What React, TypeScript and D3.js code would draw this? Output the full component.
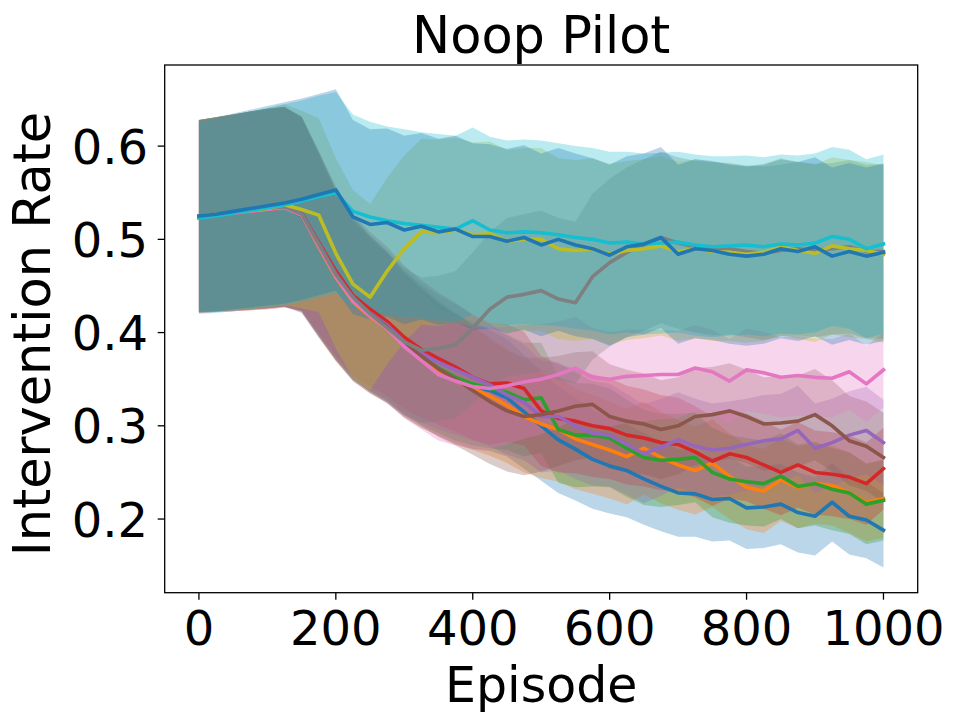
import React from 'react';
import * as d3 from 'd3';

const episodes = [0, 25, 50, 75, 100, 125, 150, 175, 200, 225, 250, 275, 300, 325, 350, 375, 400, 425, 450, 475, 500, 525, 550, 575, 600, 625, 650, 675, 700, 725, 750, 775, 800, 825, 850, 875, 900, 925, 950, 975, 1000];

const xTicks = [0, 200, 400, 600, 800, 1000];
const yTicks = [0.2, 0.3, 0.4, 0.5, 0.6];

const titleText = 'Noop Pilot';
const xLabel = 'Episode';
const yLabel = 'Intervention Rate';

const tab10 = ['#1f77b4', '#ff7f0e', '#2ca02c', '#d62728', '#9467bd', '#8c564b', '#e377c2', '#7f7f7f', '#bcbd22', '#17becf', '#1f77b4'];

const blue1Mean = [0.525, 0.527, 0.529, 0.531, 0.533, 0.535, 0.525, 0.493, 0.46, 0.434, 0.418, 0.405, 0.386, 0.372, 0.36, 0.35, 0.342, 0.338, 0.33, 0.315, 0.3, 0.285, 0.275, 0.264, 0.257, 0.252, 0.243, 0.235, 0.228, 0.227, 0.221, 0.222, 0.212, 0.213, 0.216, 0.207, 0.203, 0.218, 0.203, 0.199, 0.188];
const orangeMean = [0.524, 0.526, 0.528, 0.53, 0.532, 0.535, 0.526, 0.492, 0.459, 0.433, 0.417, 0.404, 0.385, 0.371, 0.359, 0.348, 0.34, 0.332, 0.322, 0.31, 0.302, 0.296, 0.286, 0.28, 0.274, 0.267, 0.276, 0.266, 0.258, 0.252, 0.26, 0.246, 0.234, 0.23, 0.242, 0.234, 0.238, 0.236, 0.228, 0.218, 0.222];
const greenMean = [0.525, 0.527, 0.529, 0.531, 0.533, 0.535, 0.527, 0.494, 0.461, 0.435, 0.419, 0.406, 0.388, 0.374, 0.362, 0.352, 0.345, 0.34, 0.336, 0.328, 0.33, 0.296, 0.29, 0.29, 0.287, 0.276, 0.266, 0.263, 0.264, 0.266, 0.25, 0.243, 0.24, 0.238, 0.246, 0.235, 0.238, 0.232, 0.228, 0.216, 0.22];
const redMean = [0.524, 0.526, 0.528, 0.53, 0.532, 0.534, 0.528, 0.497, 0.466, 0.44, 0.425, 0.412, 0.395, 0.382, 0.372, 0.363, 0.352, 0.345, 0.346, 0.34, 0.316, 0.308, 0.305, 0.3, 0.297, 0.29, 0.287, 0.282, 0.28, 0.272, 0.262, 0.27, 0.266, 0.258, 0.25, 0.258, 0.25, 0.248, 0.245, 0.238, 0.254];
const purpleMean = [0.525, 0.527, 0.529, 0.531, 0.533, 0.535, 0.528, 0.496, 0.463, 0.437, 0.421, 0.408, 0.39, 0.378, 0.368, 0.36, 0.352, 0.344, 0.333, 0.325, 0.31, 0.31, 0.3, 0.292, 0.29, 0.28, 0.27, 0.277, 0.285, 0.278, 0.274, 0.276, 0.28, 0.284, 0.286, 0.295, 0.276, 0.282, 0.29, 0.295, 0.282];
const brownMean = [0.525, 0.527, 0.529, 0.531, 0.533, 0.535, 0.527, 0.495, 0.462, 0.436, 0.42, 0.406, 0.388, 0.375, 0.361, 0.35, 0.338, 0.326, 0.316, 0.31, 0.312, 0.316, 0.321, 0.323, 0.31, 0.305, 0.302, 0.296, 0.3, 0.31, 0.312, 0.316, 0.31, 0.302, 0.303, 0.305, 0.312, 0.3, 0.284, 0.278, 0.266];
const pinkMean = [0.524, 0.526, 0.528, 0.53, 0.532, 0.534, 0.526, 0.493, 0.46, 0.434, 0.418, 0.404, 0.385, 0.37, 0.355, 0.348, 0.342, 0.34, 0.343, 0.347, 0.35, 0.355, 0.362, 0.352, 0.35, 0.353, 0.354, 0.355, 0.355, 0.362, 0.358, 0.348, 0.36, 0.357, 0.352, 0.354, 0.352, 0.351, 0.358, 0.345, 0.36];
const grayMean = [0.525, 0.527, 0.529, 0.531, 0.533, 0.535, 0.527, 0.495, 0.462, 0.438, 0.42, 0.405, 0.39, 0.381, 0.383, 0.387, 0.405, 0.425, 0.438, 0.441, 0.445, 0.436, 0.432, 0.46, 0.475, 0.486, 0.494, 0.502, 0.496, 0.492, 0.49, 0.49, 0.487, 0.485, 0.488, 0.49, 0.488, 0.49, 0.492, 0.487, 0.487];
const oliveMean = [0.525, 0.527, 0.529, 0.531, 0.533, 0.537, 0.532, 0.526, 0.485, 0.452, 0.438, 0.466, 0.49, 0.508, 0.507, 0.51, 0.505, 0.506, 0.498, 0.5, 0.5, 0.49, 0.488, 0.49, 0.484, 0.488, 0.49, 0.493, 0.487, 0.49, 0.487, 0.486, 0.484, 0.486, 0.492, 0.488, 0.485, 0.493, 0.49, 0.488, 0.484];
const cyanMean = [0.523, 0.525, 0.528, 0.531, 0.534, 0.537, 0.541, 0.546, 0.55, 0.53, 0.524, 0.52, 0.517, 0.515, 0.513, 0.511, 0.52, 0.51, 0.507, 0.508, 0.507, 0.505, 0.502, 0.5, 0.496, 0.497, 0.495, 0.496, 0.497, 0.494, 0.492, 0.493, 0.494, 0.492, 0.495, 0.494, 0.496, 0.503, 0.5, 0.49, 0.495];
const blue2Mean = [0.525, 0.527, 0.53, 0.533, 0.536, 0.539, 0.543, 0.548, 0.553, 0.524, 0.516, 0.518, 0.51, 0.514, 0.508, 0.511, 0.503, 0.503, 0.498, 0.502, 0.494, 0.5, 0.494, 0.49, 0.483, 0.492, 0.495, 0.502, 0.484, 0.49, 0.488, 0.484, 0.482, 0.484, 0.49, 0.487, 0.492, 0.482, 0.487, 0.482, 0.486];

const blue1Std = [0.103, 0.104, 0.105, 0.106, 0.107, 0.107, 0.104, 0.098, 0.09, 0.086, 0.083, 0.08, 0.077, 0.074, 0.071, 0.069, 0.067, 0.065, 0.063, 0.061, 0.059, 0.057, 0.055, 0.053, 0.051, 0.05, 0.049, 0.048, 0.047, 0.046, 0.045, 0.045, 0.044, 0.044, 0.043, 0.043, 0.042, 0.042, 0.041, 0.041, 0.04];
const orangeStd = [0.103, 0.104, 0.105, 0.106, 0.106, 0.107, 0.104, 0.097, 0.09, 0.085, 0.082, 0.079, 0.076, 0.073, 0.07, 0.068, 0.066, 0.064, 0.062, 0.06, 0.058, 0.056, 0.054, 0.053, 0.052, 0.051, 0.05, 0.049, 0.048, 0.047, 0.047, 0.046, 0.045, 0.045, 0.044, 0.044, 0.043, 0.043, 0.043, 0.042, 0.042];
const greenStd = [0.103, 0.104, 0.105, 0.106, 0.107, 0.107, 0.104, 0.098, 0.091, 0.086, 0.082, 0.079, 0.076, 0.073, 0.07, 0.068, 0.066, 0.064, 0.062, 0.061, 0.059, 0.057, 0.056, 0.055, 0.053, 0.052, 0.051, 0.05, 0.049, 0.048, 0.048, 0.047, 0.047, 0.046, 0.046, 0.045, 0.045, 0.044, 0.044, 0.043, 0.043];
const redStd = [0.103, 0.104, 0.105, 0.106, 0.107, 0.107, 0.104, 0.098, 0.091, 0.086, 0.083, 0.08, 0.077, 0.074, 0.071, 0.069, 0.067, 0.065, 0.063, 0.061, 0.059, 0.058, 0.056, 0.055, 0.054, 0.053, 0.052, 0.051, 0.05, 0.049, 0.048, 0.048, 0.047, 0.047, 0.046, 0.046, 0.045, 0.045, 0.045, 0.044, 0.044];
const purpleStd = [0.103, 0.104, 0.105, 0.106, 0.107, 0.107, 0.104, 0.098, 0.091, 0.086, 0.083, 0.08, 0.077, 0.074, 0.072, 0.07, 0.068, 0.066, 0.064, 0.062, 0.06, 0.058, 0.057, 0.056, 0.055, 0.054, 0.053, 0.052, 0.051, 0.051, 0.05, 0.05, 0.049, 0.049, 0.048, 0.048, 0.048, 0.047, 0.047, 0.047, 0.046];
const brownStd = [0.103, 0.104, 0.105, 0.106, 0.107, 0.107, 0.104, 0.098, 0.091, 0.086, 0.083, 0.08, 0.077, 0.075, 0.073, 0.071, 0.069, 0.067, 0.065, 0.063, 0.061, 0.059, 0.058, 0.057, 0.056, 0.055, 0.054, 0.053, 0.052, 0.052, 0.051, 0.051, 0.05, 0.05, 0.05, 0.049, 0.049, 0.049, 0.048, 0.048, 0.048];
const pinkStd = [0.103, 0.104, 0.105, 0.106, 0.107, 0.107, 0.104, 0.098, 0.09, 0.086, 0.083, 0.08, 0.077, 0.074, 0.071, 0.069, 0.067, 0.065, 0.063, 0.061, 0.059, 0.057, 0.055, 0.053, 0.051, 0.05, 0.049, 0.048, 0.047, 0.046, 0.045, 0.045, 0.044, 0.044, 0.043, 0.043, 0.042, 0.042, 0.041, 0.041, 0.04];
const grayStd = [0.103, 0.104, 0.105, 0.106, 0.107, 0.107, 0.104, 0.098, 0.09, 0.087, 0.084, 0.081, 0.079, 0.078, 0.078, 0.079, 0.081, 0.083, 0.085, 0.086, 0.086, 0.087, 0.087, 0.089, 0.09, 0.091, 0.092, 0.092, 0.092, 0.092, 0.093, 0.092, 0.092, 0.093, 0.092, 0.093, 0.093, 0.092, 0.093, 0.093, 0.094];
const oliveStd = [0.103, 0.104, 0.105, 0.106, 0.107, 0.108, 0.106, 0.104, 0.102, 0.101, 0.1, 0.1, 0.1, 0.1, 0.1, 0.099, 0.099, 0.099, 0.098, 0.098, 0.098, 0.097, 0.097, 0.097, 0.097, 0.096, 0.096, 0.096, 0.096, 0.096, 0.096, 0.095, 0.095, 0.095, 0.095, 0.095, 0.095, 0.095, 0.095, 0.095, 0.095];
const cyanStd = [0.103, 0.104, 0.105, 0.106, 0.107, 0.108, 0.108, 0.108, 0.108, 0.104, 0.102, 0.101, 0.101, 0.1, 0.1, 0.1, 0.1, 0.1, 0.099, 0.099, 0.099, 0.098, 0.098, 0.098, 0.098, 0.097, 0.097, 0.097, 0.097, 0.097, 0.097, 0.096, 0.096, 0.096, 0.096, 0.096, 0.096, 0.096, 0.096, 0.096, 0.096];
const blue2Std = [0.103, 0.104, 0.105, 0.106, 0.107, 0.108, 0.108, 0.108, 0.108, 0.104, 0.102, 0.101, 0.101, 0.1, 0.1, 0.1, 0.1, 0.099, 0.099, 0.099, 0.098, 0.098, 0.098, 0.097, 0.097, 0.097, 0.097, 0.097, 0.096, 0.096, 0.096, 0.096, 0.096, 0.096, 0.096, 0.096, 0.096, 0.095, 0.095, 0.095, 0.095];

const means = [blue1Mean, orangeMean, greenMean, redMean, purpleMean, brownMean, pinkMean, grayMean, oliveMean, cyanMean, blue2Mean];
const stds = [blue1Std, orangeStd, greenStd, redStd, purpleStd, brownStd, pinkStd, grayStd, oliveStd, cyanStd, blue2Std];

const FONT = "'DejaVu Sans', sans-serif";

export default function App() {
  const W = 968;
  const H = 726;
  const left = 164.7;
  const right = 917.7;
  const top = 65;
  const bottom = 592.7;

  const x = d3.scaleLinear().domain([-50, 1050]).range([left, right]);
  const y = d3.scaleLinear().domain([0.121, 0.687]).range([bottom, top]);

  const bands = means.map((m, k) => {
    const s = stds[k];
    const gen = d3
      .area<number>()
      .x((_, i) => x(episodes[i]))
      .y0((_, i) => y(m[i] - s[i]))
      .y1((_, i) => y(m[i] + s[i]));
    return gen(m) || '';
  });

  const lines = means.map((m) => {
    const gen = d3
      .line<number>()
      .x((_, i) => x(episodes[i]))
      .y((v) => y(v));
    return gen(m) || '';
  });

  return (
    <svg
      width={W}
      height={H}
      viewBox={`0 0 ${W} ${H}`}
      style={{ position: 'absolute', left: 0, top: 0, display: 'block', background: '#fff' }}
    >
      <rect x={0} y={0} width={W} height={H} fill="#fff" />
      <g>
        {bands.map((d, k) => (
          <path key={'b' + k} d={d} fill={tab10[k]} fillOpacity={0.3} stroke="none" />
        ))}
      </g>
      <g>
        {lines.map((d, k) => (
          <path
            key={'l' + k}
            d={d}
            fill="none"
            stroke={tab10[k]}
            strokeWidth={3.6}
            strokeLinejoin="round"
            strokeLinecap="square"
          />
        ))}
      </g>
      <rect
        x={left}
        y={top}
        width={right - left}
        height={bottom - top}
        fill="none"
        stroke="#000"
        strokeWidth={1.3}
      />
      {xTicks.map((t) => (
        <g key={'xt' + t}>
          <line x1={x(t)} x2={x(t)} y1={bottom} y2={bottom + 7} stroke="#000" strokeWidth={1.3} />
          <text
            x={x(t)}
            y={645}
            textAnchor="middle"
            fontFamily={FONT}
            fontSize={48}
            fill="#000"
          >
            {String(t)}
          </text>
        </g>
      ))}
      {yTicks.map((t) => (
        <g key={'yt' + t}>
          <line x1={left - 7} x2={left} y1={y(t)} y2={y(t)} stroke="#000" strokeWidth={1.3} />
          <text
            x={148}
            y={y(t) + 17.5}
            textAnchor="end"
            fontFamily={FONT}
            fontSize={48}
            fill="#000"
          >
            {t.toFixed(1)}
          </text>
        </g>
      ))}
      <text x={(left + right) / 2} y={53} textAnchor="middle" fontFamily={FONT} fontSize={51} fill="#000">
        {titleText}
      </text>
      <text x={(left + right) / 2} y={702} textAnchor="middle" fontFamily={FONT} fontSize={49} fill="#000">
        {xLabel}
      </text>
      <text
        transform={`translate(50, 334) rotate(-90)`}
        textAnchor="middle"
        fontFamily={FONT}
        fontSize={51}
        fill="#000"
      >
        {yLabel}
      </text>
    </svg>
  );
}
